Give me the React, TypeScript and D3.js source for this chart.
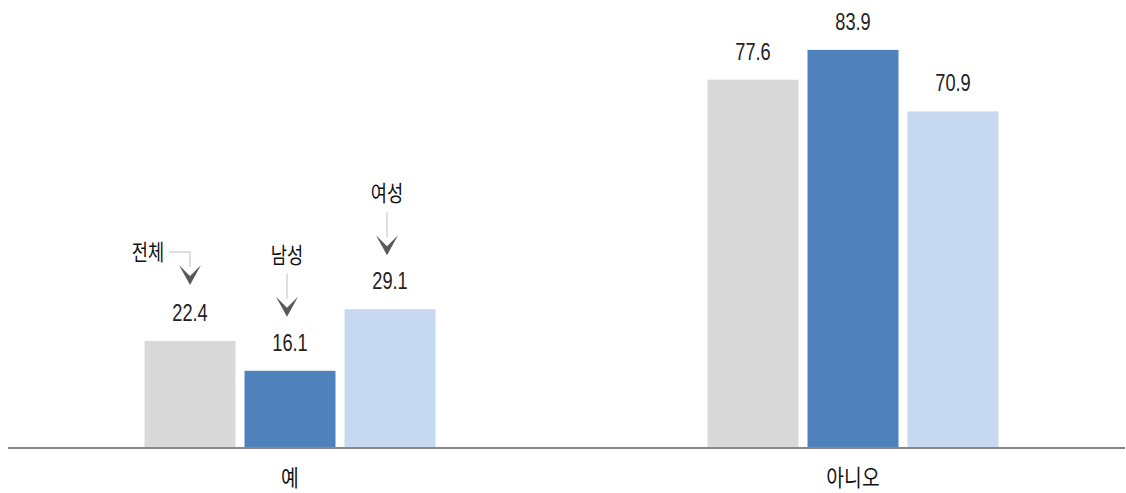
import React from 'react';
import * as d3 from 'd3';

const categories = ['예', '아니오'];
const seriesNames = ['전체', '남성', '여성'];
const valuesAll = [22.4, 77.6];
const valuesMale = [16.1, 83.9];
const valuesFemale = [29.1, 70.9];
const seriesColors = ['#d9d9d9', '#4f81bd', '#c6d9f0'];

const W = 1126;
const H = 493;
const NUM_FONT = '"Liberation Sans", Arial, sans-serif';
const KR_FONT = '"Noto Sans CJK KR", "Noto Sans", sans-serif';

const App: React.FC = () => {
  const seriesValues = [valuesAll, valuesMale, valuesFemale];

  const x0 = d3.scaleBand<string>().domain(categories).range([8.5, 1134.5]).padding(0);
  const x1 = d3.scaleBand<string>().domain(seriesNames).range([0, 291]).paddingInner(0.09).paddingOuter(0);
  const y = d3.scaleLinear().domain([0, 90]).range([447, 21]);

  const groupStart = (c: string) => x0(c)! + x0.bandwidth() / 2 - 145.5;

  const bars = categories.flatMap((c, ci) =>
    seriesNames.map((s, si) => ({
      c,
      s,
      si,
      v: seriesValues[si][ci],
      x: groupStart(c) + x1(s)!,
    }))
  );

  // annotation arrows over the "예" group, one per series
  const annoDrop = [56, 54, 54];
  const chevron = 'M-11,0 L0,11 L11,0 L0,20 Z';

  return (
    <svg width={W} height={H} style={{ position: 'absolute', left: 0, top: 0 }}>
      <rect width={W} height={H} fill="#fff" />
      {bars.map((b, i) => (
        <g key={i}>
          <rect
            x={b.x}
            y={y(b.v)}
            width={x1.bandwidth()}
            height={y(0) - y(b.v)}
            fill={seriesColors[b.si]}
          />
          <text
            transform={`translate(${b.x + x1.bandwidth() / 2},${y(b.v) - 20}) scale(0.76,1)`}
            textAnchor="middle"
            fontFamily={NUM_FONT}
            fontSize={24}
            fill="#222"
          >
            {b.v.toFixed(1)}
          </text>
        </g>
      ))}
      <line x1={8} x2={1125} y1={448} y2={448} stroke="#888" strokeWidth={2} />
      {categories.map((c) => (
        <text
          key={c}
          transform={`translate(${x0(c)! + x0.bandwidth() / 2},${486}) scale(0.84,1)`}
          textAnchor="middle"
          fontFamily={KR_FONT}
          fontSize={23}
          fill="#111"
        >
          {c}
        </text>
      ))}
      {bars
        .filter((b) => b.c === categories[0])
        .map((b) => {
          const cx = b.x + x1.bandwidth() / 2 - 1;
          const chevBottom = y(b.v) - annoDrop[b.si];
          const chevTop = chevBottom - 20;
          if (b.si === 0) {
            const ax = cx + 1;
            const ly = chevTop - 13;
            return (
              <g key={b.s}>
                <text
                  transform={`translate(${ax - 42},${ly + 8}) scale(0.8,1)`}
                  textAnchor="middle"
                  fontFamily={KR_FONT}
                  fontSize={22}
                  fill="#111"
                >
                  {b.s}
                </text>
                <polyline
                  points={`${ax - 21},${ly} ${ax},${ly} ${ax},${chevTop + 2}`}
                  fill="none"
                  stroke="#bfbfbf"
                  strokeWidth={1}
                />
                <path d={chevron} transform={`translate(${ax},${chevTop})`} fill="#595959" />
              </g>
            );
          }
          const ax = cx - 2;
          return (
            <g key={b.s}>
              <text
                transform={`translate(${ax},${chevTop - 34}) scale(0.8,1)`}
                textAnchor="middle"
                fontFamily={KR_FONT}
                fontSize={22}
                fill="#111"
              >
                {b.s}
              </text>
              <line x1={ax} x2={ax} y1={chevTop - 23} y2={chevTop + 2} stroke="#bfbfbf" strokeWidth={1} />
              <path d={chevron} transform={`translate(${ax},${chevTop})`} fill="#595959" />
            </g>
          );
        })}
    </svg>
  );
};

export default App;
